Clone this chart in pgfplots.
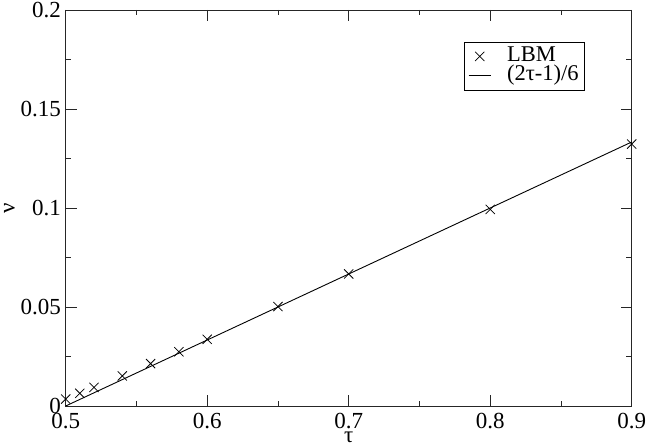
\documentclass[border=0pt]{standalone}
\usepackage{fontspec}
\setmainfont{Liberation Serif}
\usepackage{pgfplots}
\pgfplotsset{compat=1.18}

\begin{document}
\fontsize{23bp}{27bp}\selectfont
\begin{tikzpicture}
\begin{axis}[
    scale only axis,
    width=566bp, height=396bp,
    xmin=0.5, xmax=0.9,
    ymin=0, ymax=0.2,
    xtick={0.5,0.6,0.7,0.8,0.9},
    xticklabels={0.5,0.6,0.7,0.8,0.9},
    ytick={0,0.05,0.1,0.15,0.2},
    yticklabels={0,0.05,0.1,0.15,0.2},
    minor tick num=1,
    tick align=inside,
    major tick length=11bp,
    minor tick length=5.5bp,
    axis line style={line width=0.8bp, black!85},
    every tick/.style={line width=0.8bp, black!85},
    tick label style={font=\fontsize{23bp}{27bp}\selectfont},
    xticklabel style={inner sep=0pt, yshift=-6.7bp, anchor=north},
    yticklabel style={inner sep=0pt, xshift=-4.7bp, anchor=east},
    xlabel={τ},
    ylabel={ν},
    label style={font=\fontsize{23bp}{27bp}\selectfont},
    xlabel style={at={(axis description cs:0.5,0)}, anchor=north, yshift=-26bp, inner sep=0pt},
    ylabel style={at={(axis description cs:0,0.5)}, anchor=south, yshift=50.7bp, inner sep=0pt},
    legend style={at={(0.9175,0.9202)}, anchor=north east, draw=black, line width=0.6bp,
        font=\fontsize{22.5bp}{26bp}\selectfont, inner xsep=4bp, inner ysep=4.5bp,
        nodes={inner xsep=2bp, inner ysep=0pt, text height=15bp, text depth=5bp},
        column sep=14bp, row sep=-0.8bp,
        legend cell align=left},
    legend image code/.code={
        \draw[mark repeat=2, mark phase=2, #1] plot coordinates {(0bp,0bp) (11bp,0bp) (22bp,0bp)};
    },
    clip=false,
]
\addplot[only marks, mark=x, mark size=6.5bp, black, mark options={line width=0.8bp}]
    coordinates {
        (0.50,0.0035) (0.51,0.0064) (0.52,0.0094) (0.54,0.0152)
        (0.56,0.0214) (0.58,0.0274) (0.60,0.0337) (0.65,0.0502)
        (0.70,0.0667) (0.80,0.0993) (0.90,0.1323)
    };
\addplot[black, line width=0.9bp] coordinates {(0.5,0) (0.9,0.13333)};
\legend{LBM, (2τ-1)/6}
\end{axis}
\pgfresetboundingbox
\useasboundingbox ([xshift=-65.7bp, yshift=-42bp]current axis.south west)
    rectangle ([xshift=16.3bp, yshift=10bp]current axis.north east);
\end{tikzpicture}
\end{document}
